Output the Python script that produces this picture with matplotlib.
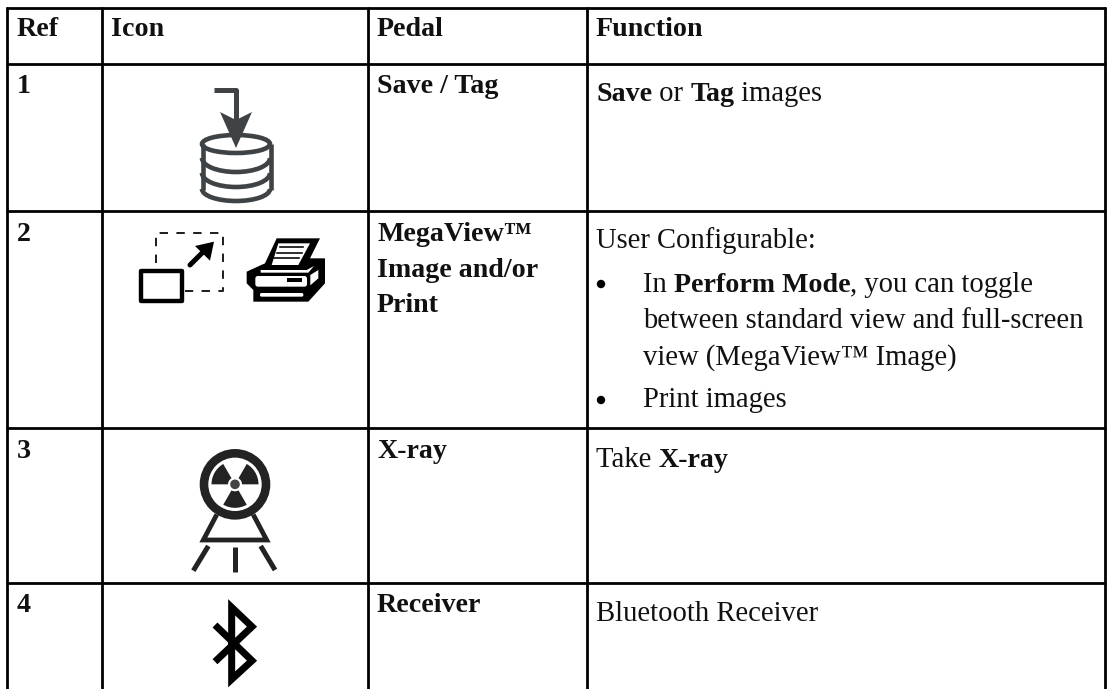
import numpy as np
import matplotlib
matplotlib.use("Agg")
import matplotlib.pyplot as plt
from matplotlib.patches import Polygon, Rectangle, Circle, Wedge, Ellipse, Arc, FancyBboxPatch

# ---- table content ----
headers = ["Ref", "Icon", "Pedal", "Function"]
refs = ["1", "2", "3", "4"]
pedals = [["Save / Tag"],
          ["MegaView\u2122", "Image and/or", "Print"],
          ["X-ray"],
          ["Receiver"]]
functions_row1 = [("Save", True), (" or ", False), ("Tag", True), (" images", False)]
functions_row2_intro = [("User Configurable:", False)]
functions_row2_b1 = [("In ", False), ("Perform Mode", True), (", you can toggle", False)]
functions_row2_b1b = [("between standard view and full-screen", False)]
functions_row2_b1c = [("view (MegaView\u2122 Image)", False)]
functions_row2_b2 = [("Print images", False)]
functions_row3 = [("Take ", False), ("X-ray", True)]
functions_row4 = [("Bluetooth Receiver", False)]

# ---- layout (pixels) ----
W, H = 1107, 689
col_x = [7, 102, 368, 587, 1105]
row_y = [8, 64, 211, 428, 583]
text_x = [17, 111, 377, 596]
FS = 20.6
FS_BOLD = 20.2
PX = 0.72  # points per pixel at dpi 100

fig = plt.figure(figsize=(W / 100, H / 100), dpi=100, facecolor="white")
ax = fig.add_axes([0, 0, 1, 1])
ax.set_xlim(0, W)
ax.set_ylim(H, 0)
ax.axis("off")
plt.rcParams["font.family"] = ["Liberation Serif", "DejaVu Serif"]
renderer = fig.canvas.get_renderer()

INK = "#111111"


def width(s, bold):
    w = "bold" if bold else "normal"
    fs = FS_BOLD if bold else FS
    a = ax.text(0, 0, s + "|", fontsize=fs, fontweight=w)
    b = ax.text(0, 0, "|", fontsize=fs, fontweight=w)
    r = a.get_window_extent(renderer).width - b.get_window_extent(renderer).width
    a.remove()
    b.remove()
    return r


def runs(x, y, parts):
    for s, bold in parts:
        ax.text(x, y, s, fontsize=FS_BOLD if bold else FS, va="baseline", ha="left", color=INK,
                fontweight="bold" if bold else "normal")
        x += width(s, bold)


# grid
for x in col_x:
    ax.plot([x, x], [row_y[0] - 1, H], color="black", lw=2.0, solid_capstyle="butt")
for y in row_y:
    ax.plot([col_x[0] - 1, col_x[-1] + 1], [y, y], color="black", lw=2.0, solid_capstyle="butt")

# headers
for x, h in zip(text_x, headers):
    runs(x, 36, [(h, True)])

# ref numbers
for r, y in zip(refs, [93, 241, 458, 612]):
    runs(text_x[0], y, [(r, True)])

# pedals
ped_base = [[93], [241, 277, 312], [458], [612]]
for lines, ys in zip(pedals, ped_base):
    for s, y in zip(lines, ys):
        runs(text_x[2], y, [(s, True)])

# functions
runs(596, 101, functions_row1)
runs(596, 248, functions_row2_intro)
runs(643, 292, functions_row2_b1)
runs(643, 328, functions_row2_b1b)
runs(643, 365, functions_row2_b1c)
runs(643, 407, functions_row2_b2)
runs(596, 467, functions_row3)
runs(596, 621, functions_row4)
for y in [284, 400]:
    ax.add_patch(Circle((601, y), 4.2, color="black", lw=0))

# ---- icon 1: save ----
G = "#3f4345"
ax.plot([214, 236, 236], [90, 90, 125], color=G, lw=5 * PX, solid_joinstyle="round", solid_capstyle="butt")
lw = 4.6 * PX
cx, x0, x1 = 236, 203, 271
ax.plot([x0, x0], [144, 190], color=G, lw=lw, solid_capstyle="butt")
ax.plot([x1, x1], [144, 190], color=G, lw=lw, solid_capstyle="butt")
ax.add_patch(Ellipse((cx, 144), x1 - x0, 18, fill=False, ec=G, lw=lw))
for yc, hh in [(158, 28), (173, 28), (189, 24)]:
    ax.add_patch(Arc((cx, yc), x1 - x0, hh, theta1=0, theta2=180, ec=G, lw=lw))
ax.add_patch(Polygon([(220, 112), (236, 120), (252, 112), (236, 148)], fc=G, ec="none", zorder=4))

# ---- icon 2a: MegaView ----
def z2(pts):
    return [(130 + px / 3, 220 + py / 3) for px, py in pts]


p = np.array(z2([(77, 130), (77, 40), (280, 40), (280, 213), (165, 213)]))
ax.plot(p[:, 0], p[:, 1], color="#222222", lw=2 * PX, linestyle=(0, (4.2, 4.2)))
q = z2([(33, 152), (156, 152), (156, 242), (33, 242)])
ax.add_patch(Polygon(q, closed=True, fc="white", ec="black", lw=4.4 * PX, joinstyle="round", zorder=3))
p = np.array(z2([(180, 135), (225, 90)]))
ax.plot(p[:, 0], p[:, 1], color="black", lw=5 * PX, solid_capstyle="round")
ax.add_patch(Polygon(z2([(195, 78), (252, 65), (240, 122)]), fc="black", ec="none"))

# ---- icon 2b: printer ----
ax.add_patch(Polygon(z2([(440, 55), (570, 55), (540, 115), (585, 115), (585, 190), (535, 245),
                         (370, 245), (370, 210), (350, 190), (350, 155), (405, 130)]),
                     fc="black", ec="none"))
ax.add_patch(Polygon(z2([(445, 70), (540, 70), (505, 135), (425, 135)]), fc="white", ec="none"))
for seg in [[(450, 82), (520, 82)], [(440, 98), (515, 98)], [(430, 115), (508, 115)]]:
    s = np.array(z2(seg))
    ax.plot(s[:, 0], s[:, 1], color="black", lw=1.6 * PX)
ax.add_patch(Polygon(z2([(392, 150), (530, 150), (552, 138), (535, 158), (392, 158)]), fc="white", ec="none"))
ax.add_patch(FancyBboxPatch((130 + 376 / 3, 220 + 168 / 3), 155 / 3, 32 / 3,
                            boxstyle="round,pad=0,rounding_size=2.5", fc="white", ec="none"))
ax.add_patch(Rectangle((130 + 470 / 3, 220 + 174 / 3), 45 / 3, 11 / 3, fc="black", ec="none"))
ax.add_patch(Polygon(z2([(541, 165), (565, 150), (565, 175), (541, 196)]), fc="white", ec="none"))
ax.add_patch(FancyBboxPatch((130 + 390 / 3, 220 + 219 / 3), 130 / 3, 11 / 3,
                            boxstyle="round,pad=0,rounding_size=1.5", fc="white", ec="none"))

# ---- icon 3: radiation ----
def z3(pts):
    return [(100 + px / 3, 420 + py / 3) for px, py in pts]


R = "#232323"
cc = z3([(405, 193)])[0]
ax.add_patch(Circle(cc, 31, fill=False, ec=R, lw=8.6 * PX))
for t1, t2 in [(60, 120), (180, 240), (300, 360)]:
    ax.add_patch(Wedge(cc, 23.5, t1, t2, width=16.5, fc=R, ec="none"))
ax.add_patch(Circle(cc, 4.8, fc="#444444", ec="none"))
st = np.array(z3([(347, 290), (310, 360), (500, 360), (463, 290)]))
ax.plot(st[:, 0], st[:, 1], color=R, lw=4.8 * PX, solid_joinstyle="miter")
for seg in [[(325, 378), (280, 452)], [(405, 380), (405, 455)], [(482, 378), (525, 450)]]:
    s = np.array(z3(seg))
    ax.plot(s[:, 0], s[:, 1], color=R, lw=5 * PX, solid_capstyle="butt")

# ---- icon 4: bluetooth ----
b = np.array(z3([(345, 615), (456, 722), (395, 778), (395, 562), (456, 620), (345, 725)]))
ax.plot(b[:, 0], b[:, 1], color="black", lw=7 * PX, solid_joinstyle="miter", solid_capstyle="butt")

fig.savefig("out.png", dpi=100, facecolor="white")
